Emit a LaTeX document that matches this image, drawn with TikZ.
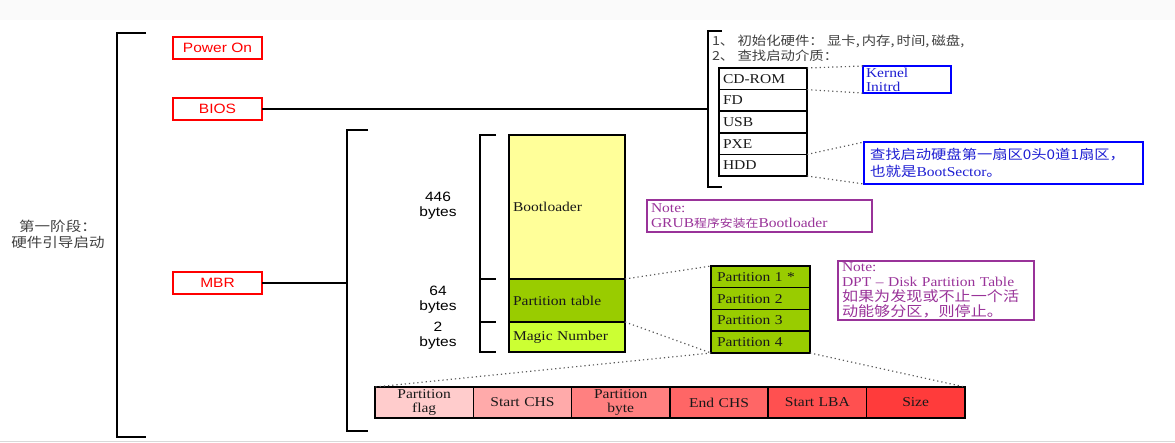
\documentclass[tikz,border=0pt]{standalone}
\usepackage{fontspec}
\usepackage{xcolor}
\usepackage{tikz}
\usetikzlibrary{positioning}
\setmainfont{Liberation Serif}[FakeStretch=1.15]
\newfontfamily\sansf{Liberation Sans}[FakeStretch=1.15]
\newfontfamily\cjk{Noto Sans CJK SC}[FakeStretch=1.15]
\definecolor{notepurple}{HTML}{993399}
\definecolor{noteblue}{HTML}{1E1ED2}
\definecolor{darktext}{HTML}{404040}
\definecolor{bootyellow}{HTML}{FFFF99}
\definecolor{ptgreen}{HTML}{99CC00}
\definecolor{magicgreen}{HTML}{CCFF33}
\definecolor{redA}{HTML}{FFCCCC}
\definecolor{redB}{HTML}{FFAAAA}
\definecolor{redC}{HTML}{FF8080}
\definecolor{redD}{HTML}{FF6666}
\definecolor{redE}{HTML}{FF5050}
\definecolor{redF}{HTML}{FF3B3B}
\newcommand{\zh}[1]{{\cjk #1}}
\newcommand{\zhsmall}[1]{{\cjk\fontsize{11.2}{12}\selectfont #1}}

\begin{document}
\begin{tikzpicture}[x=1pt, y=-1pt,
  every node/.style={outer sep=0pt},
  stagebox/.style={draw=red, line width=1.6pt, text=red, inner sep=0pt,
    font=\sansf\fontsize{13.5}{15}\selectfont, minimum width=89pt, minimum height=22pt},
  cell/.style={draw=black, line width=1.5pt, inner xsep=4pt, inner ysep=0pt,
    align=left, text=black!90, font=\fontsize{13.5}{15}\selectfont},
  media/.style={cell, text width=80pt, minimum height=21.6pt},
  mbrpart/.style={cell, text width=108pt},
  dptpart/.style={cell, fill=ptgreen, inner xsep=6pt, text width=87pt, minimum height=21.75pt},
  field/.style={cell, align=center, text width=90.3pt, minimum height=31pt,
    font=\fontsize{13.5}{14}\selectfont},
  bluenote/.style={draw=blue, line width=1.6pt, text=noteblue, align=left, inner ysep=0pt},
  purplenote/.style={draw=notepurple, line width=1.4pt, text=notepurple, align=left,
    inner xsep=4pt, inner ysep=0pt, font=\fontsize{13.5}{15}\selectfont},
  bytelabel/.style={align=center, font=\sansf\fontsize{13.5}{15}\selectfont},
  brk/.style={line width=1.6pt},
  dots/.style={black!65, line width=1.2pt, dash pattern=on 1.2pt off 3pt}
]
\useasboundingbox (0,0) rectangle (1175,443);
\fill[gray!4] (0,0) rectangle (1175,20);
\draw[gray!30, line width=1.5pt] (0,441.5) -- (1175,441.5);

% Brackets
\draw[brk] (146,33) -- (117,33) -- (117,437) -- (146,437);
\draw[brk] (722,31) -- (708,31) -- (708,187) -- (722,187);
\draw[brk] (368,130) -- (347,130) -- (347,431) -- (368,431);
\draw[brk] (496,135) -- (480,135) -- (480,352) -- (496,352);
\draw[brk] (480,279) -- (496,279);
\draw[brk] (480,322) -- (496,322);
\coordinate (biosjoin) at (708,109);
\coordinate (mbrjoin) at (347,283);

% Nodes
\node[text=darktext, align=center, font=\cjk\fontsize{13.5}{16}\selectfont] (stage) at (58,234) {第一阶段：\\硬件引导启动};

\node[stagebox, anchor=north west] (poweron) at (173,37) {Power On};
\node[stagebox, anchor=north west] (bios) at (173,98) {BIOS};
\node[stagebox, anchor=north west] (mbr) at (173,272) {MBR};

\node[anchor=north west, align=left, inner sep=1pt, text=darktext,
  font=\cjk\fontsize{12.5}{15}\selectfont] (biostext) at (711,34)
  {1、 初始化硬件：\ 显卡,\,内存,\,时间,\,磁盘,\\2、 查找启动介质：};
\node[media, anchor=north west] (cdrom) at (719,68) {CD-ROM};
\node[media, below=0pt of cdrom] (fd) {FD};
\node[media, below=0pt of fd] (usb) {USB};
\node[media, below=0pt of usb] (pxe) {PXE};
\node[media, below=0pt of pxe] (hdd) {HDD};

\node[bluenote, anchor=north west, inner xsep=3pt, text width=82pt, minimum height=27pt,
  font=\fontsize{13.5}{14}\selectfont] (kernel) at (863,66) {Kernel\\Initrd};
\node[bluenote, anchor=north west, inner xsep=6pt, text width=267pt, minimum height=42pt,
  font=\fontsize{13.5}{17}\selectfont] (bootsec) at (864,142)
  {{\cjk\fontsize{13.3}{17}\selectfont 查找启动硬盘第一扇区0头0道1扇区，}\\\zh{也就是}BootSector\zh{。}};

\node[bytelabel] (size446) at (438,206) {446\\bytes};
\node[bytelabel] (size64) at (438,300) {64\\bytes};
\node[bytelabel] (size2) at (438,336) {2\\bytes};

\node[mbrpart, fill=bootyellow, minimum height=144pt, anchor=north west] (bootloader) at (509,135) {Bootloader};
\node[mbrpart, fill=ptgreen, minimum height=43pt, below=0pt of bootloader] (ptable) {Partition table};
\node[mbrpart, fill=magicgreen, minimum height=30pt, below=0pt of ptable] (magic) {Magic Number};

\node[purplenote, anchor=north west, text width=217pt, minimum height=32pt] (grubnote) at (647,200)
  {Note:\\GRUB\zhsmall{程序安装在}Bootloader};

\node[dptpart, anchor=north west] (part1) at (711,266) {Partition 1 *};
\node[dptpart, below=0pt of part1] (part2) {Partition 2};
\node[dptpart, below=0pt of part2] (part3) {Partition 3};
\node[dptpart, below=0pt of part3] (part4) {Partition 4};

\node[purplenote, anchor=north west, text width=188pt, minimum height=59pt] (dptnote) at (838,261)
  {Note:\\DPT – Disk Partition Table\\{\cjk\fontsize{14}{15}\selectfont 如果为发现或不止一个活}\\{\cjk\fontsize{14}{15}\selectfont 动能够分区，则停止。}};

\node[field, fill=redA, anchor=north west] (pflag) at (375,387) {Partition\\flag};
\node[field, fill=redB, right=0pt of pflag] (startchs) {Start CHS};
\node[field, fill=redC, right=0pt of startchs] (pbyte) {Partition\\byte};
\node[field, fill=redD, right=0pt of pbyte] (endchs) {End CHS};
\node[field, fill=redE, right=0pt of endchs] (startlba) {Start LBA};
\node[field, fill=redF, right=0pt of startlba] (psize) {Size};

% Lines
\draw[line width=1.5pt] (bios) -- (biosjoin);
\draw[line width=1.5pt] (mbr) -- (mbrjoin);

% Dotted links
\draw[dots] (cdrom.north east) -- (kernel.north west);
\draw[dots] (cdrom.south east) -- (kernel.south west);
\draw[dots] (hdd.north east) -- (bootsec.north west);
\draw[dots] (hdd.south east) -- (bootsec.south west);
\draw[dots] (bootloader.south east) -- (part1.north west);
\draw[dots] (ptable.south east) -- (part4.south west);
\draw[dots] (part4.south west) -- (pflag.north west);
\draw[dots] (part4.south east) -- (psize.north east);
\end{tikzpicture}
\end{document}
